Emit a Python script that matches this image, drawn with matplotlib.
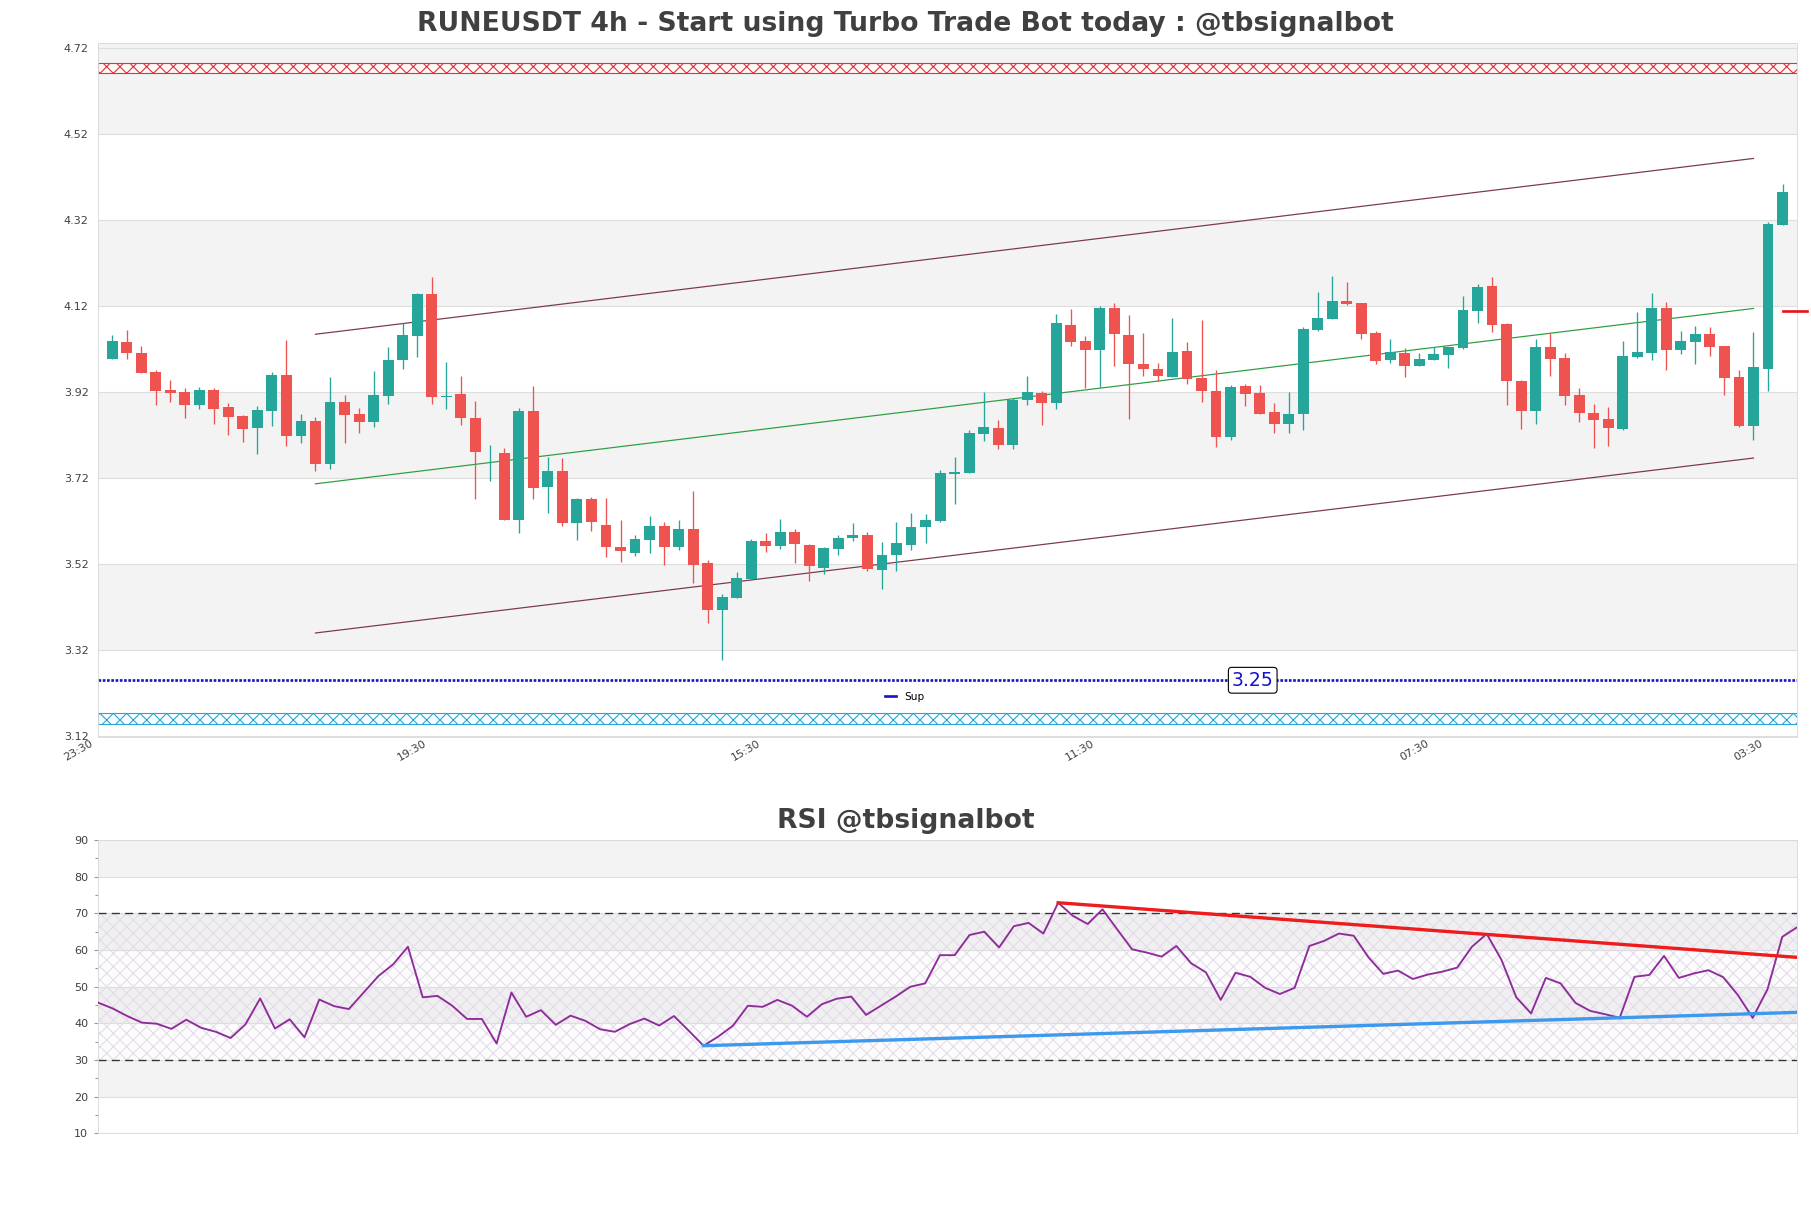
import numpy as np
import matplotlib
matplotlib.use("Agg")
import matplotlib.pyplot as plt
from matplotlib.lines import Line2D

plt.rcParams['font.family'] = ['DejaVu Sans']
plt.rcParams['hatch.linewidth'] = 1.0

# 4h candles
opens = [3.998, 4.037, 4.011, 3.968, 3.925, 3.920, 3.891, 3.925, 3.886, 3.865,
         3.838, 3.877, 3.960, 3.819, 3.853, 3.753, 3.897, 3.869, 3.852, 3.912,
         3.994, 4.052, 4.148, 3.910, 3.916, 3.860, 3.780, 3.778, 3.623, 3.877,
         3.700, 3.737, 3.617, 3.672, 3.611, 3.560, 3.547, 3.576, 3.609, 3.561,
         3.602, 3.523, 3.414, 3.442, 3.486, 3.573, 3.563, 3.595, 3.565, 3.512,
         3.556, 3.580, 3.588, 3.507, 3.542, 3.565, 3.607, 3.621, 3.731, 3.733,
         3.824, 3.838, 3.798, 3.903, 3.919, 3.894, 4.077, 4.040, 4.018, 4.115,
         4.053, 3.986, 3.974, 3.956, 4.016, 3.954, 3.923, 3.817, 3.935, 3.918,
         3.874, 3.847, 3.870, 4.065, 4.090, 4.132, 4.127, 4.057, 3.996, 4.011,
         3.981, 3.995, 4.007, 4.024, 4.110, 4.167, 4.079, 3.947, 3.877, 4.025,
         4.000, 3.914, 3.871, 3.858, 3.835, 4.003, 4.012, 4.115, 4.018, 4.038,
         4.056, 4.028, 3.956, 3.842, 3.975, 4.309]
highs = [4.053, 4.065, 4.028, 3.972, 3.949, 3.929, 3.932, 3.929, 3.894, 3.867,
         3.887, 3.968, 4.042, 3.870, 3.863, 3.955, 3.914, 3.883, 3.970, 4.025,
         4.082, 4.152, 4.188, 3.991, 3.958, 3.900, 3.797, 3.790, 3.883, 3.935,
         3.770, 3.766, 3.673, 3.677, 3.673, 3.623, 3.588, 3.631, 3.618, 3.623,
         3.691, 3.530, 3.451, 3.501, 3.579, 3.592, 3.625, 3.602, 3.567, 3.561,
         3.588, 3.616, 3.596, 3.572, 3.618, 3.638, 3.637, 3.739, 3.769, 3.832,
         3.920, 3.856, 3.906, 3.957, 3.924, 4.102, 4.113, 4.050, 4.120, 4.127,
         4.100, 4.058, 3.987, 4.092, 4.036, 4.088, 3.972, 3.938, 3.939, 3.937,
         3.894, 3.921, 4.073, 4.153, 4.190, 4.176, 4.127, 4.063, 4.043, 4.022,
         4.011, 4.026, 4.026, 4.144, 4.172, 4.189, 4.080, 3.949, 4.043, 4.057,
         4.011, 3.929, 3.893, 3.885, 4.039, 4.106, 4.152, 4.131, 4.063, 4.074,
         4.073, 4.028, 3.972, 4.061, 4.317, 4.404]
lows = [3.998, 3.998, 3.964, 3.891, 3.898, 3.861, 3.882, 3.846, 3.821, 3.805,
        3.777, 3.842, 3.796, 3.803, 3.738, 3.742, 3.803, 3.826, 3.840, 3.892,
        3.975, 4.003, 3.893, 3.881, 3.844, 3.672, 3.714, 3.623, 3.592, 3.672,
        3.640, 3.609, 3.577, 3.597, 3.536, 3.524, 3.540, 3.547, 3.517, 3.552,
        3.476, 3.384, 3.296, 3.442, 3.484, 3.549, 3.556, 3.522, 3.482, 3.497,
        3.542, 3.573, 3.505, 3.462, 3.504, 3.553, 3.570, 3.619, 3.660, 3.733,
        3.807, 3.788, 3.788, 3.890, 3.844, 3.880, 4.028, 3.930, 3.933, 3.982,
        3.857, 3.958, 3.947, 3.956, 3.939, 3.897, 3.792, 3.808, 3.887, 3.870,
        3.826, 3.826, 3.832, 4.063, 4.090, 4.124, 4.045, 3.985, 3.987, 3.956,
        3.980, 3.995, 3.977, 4.021, 4.082, 4.061, 3.890, 3.834, 3.846, 3.959,
        3.890, 3.852, 3.790, 3.796, 3.832, 3.999, 3.995, 3.972, 4.009, 3.986,
        4.004, 3.914, 3.840, 3.809, 3.922, 4.309]
closes = [4.039, 4.012, 3.966, 3.924, 3.919, 3.891, 3.925, 3.882, 3.863, 3.835,
          3.879, 3.960, 3.819, 3.853, 3.753, 3.897, 3.868, 3.852, 3.914, 3.995,
          4.053, 4.148, 3.910, 3.912, 3.859, 3.780, 3.781, 3.623, 3.877, 3.698,
          3.737, 3.617, 3.672, 3.618, 3.559, 3.550, 3.579, 3.609, 3.561, 3.602,
          3.519, 3.414, 3.444, 3.487, 3.574, 3.563, 3.595, 3.566, 3.515, 3.558,
          3.581, 3.588, 3.509, 3.542, 3.569, 3.607, 3.623, 3.733, 3.735, 3.826,
          3.840, 3.798, 3.903, 3.920, 3.896, 4.080, 4.037, 4.019, 4.115, 4.055,
          3.985, 3.973, 3.959, 4.014, 3.952, 3.924, 3.817, 3.933, 3.917, 3.870,
          3.847, 3.870, 4.067, 4.093, 4.132, 4.126, 4.056, 3.993, 4.013, 3.980,
          3.997, 4.008, 4.025, 4.111, 4.166, 4.077, 3.947, 3.877, 4.025, 3.998,
          3.911, 3.871, 3.856, 3.838, 4.004, 4.013, 4.117, 4.018, 4.039, 4.056,
          4.026, 3.954, 3.842, 3.979, 4.311, 4.386]

rsi = [45.7, 44.1, 42.0, 40.2, 39.9, 38.5, 41.0, 38.8, 37.7, 36.0,
       39.7, 46.8, 38.6, 41.1, 36.2, 46.5, 44.7, 43.9, 48.4, 52.9,
       56.1, 60.9, 47.1, 47.5, 44.8, 41.2, 41.2, 34.5, 48.4, 41.8,
       43.6, 39.6, 42.1, 40.7, 38.4, 37.7, 39.8, 41.3, 39.4, 42.0,
       38.0, 33.9, 36.4, 39.4, 44.8, 44.5, 46.4, 44.8, 41.8, 45.2,
       46.7, 47.3, 42.3, 44.8, 47.3, 50.0, 50.9, 58.6, 58.6, 64.1,
       65.0, 60.7, 66.5, 67.4, 64.5, 72.9, 69.3, 67.1, 71.1, 65.6,
       60.2, 59.3, 58.2, 61.1, 56.4, 53.9, 46.4, 53.8, 52.7, 49.7,
       48.0, 49.7, 61.1, 62.5, 64.5, 63.9, 58.0, 53.5, 54.4, 52.1,
       53.3, 54.1, 55.2, 60.9, 64.4, 57.3, 47.1, 42.7, 52.4, 50.9,
       45.6, 43.4, 42.5, 41.5, 52.7, 53.2, 58.4, 52.4, 53.6, 54.5,
       52.6, 47.7, 41.5, 49.3, 63.6, 66.2]

time_labels = ['23:30', '19:30', '15:30', '11:30', '07:30', '03:30']
label_step = 23
price_ticks = [3.12, 3.32, 3.52, 3.72, 3.92, 4.12, 4.32, 4.52, 4.72]
rsi_ticks = [10, 20, 30, 40, 50, 60, 70, 80, 90]

# price channel
channel_x = [14, 113]
channel_upper = [4.055, 4.464]
channel_mid = [3.707, 4.115]
channel_lower = [3.360, 3.767]

resist_zone = [4.662, 4.687]
support_zone = [3.149, 3.175]
sup_level = 3.25
last_level = 4.11

# RSI trend lines
rsi_res_x = [65, 115]
rsi_res_y = [72.9, 58.0]
rsi_sup_x = [41, 115]
rsi_sup_y = [33.9, 43.0]

title = 'RUNEUSDT 4h - Start using Turbo Trade Bot today : @tbsignalbot'
text_col = '#404040'
band_col = '#f3f3f3'
grid_col = '#dedede'
sup_col = '#1414c8'

DPI = 80
fig = plt.figure(figsize=(1811 / DPI, 1208 / DPI), dpi=DPI)
ax = fig.add_axes([0.0539, 0.3899, 0.9384, 0.5743])
rax = fig.add_axes([0.0539, 0.0618, 0.9384, 0.2428])

# ---- price chart ----
o = np.array(opens)
h = np.array(highs)
l = np.array(lows)
c = np.array(closes)
x = np.arange(len(o))
ax.set_xlim(-1, len(o))
ax.set_ylim(3.118, 4.732)

ytop = ax.get_ylim()[1]
for k in range(len(price_ticks) - 1):
    if k % 2 == 1:
        hi = price_ticks[k + 1] if k < len(price_ticks) - 2 else ytop
        ax.axhspan(price_ticks[k], hi, color=band_col, lw=0, zorder=0)

ax.set_yticks(price_ticks)
ax.grid(axis='y', color=grid_col, lw=1)
ax.set_axisbelow(True)

cols = np.where(c >= o, '#26a69a', '#ef5350')
ax.vlines(x, l, h, colors=cols, lw=1.2, zorder=3)
body_h = np.maximum(np.abs(c - o), 0.002)
ax.bar(x, body_h, bottom=np.minimum(o, c), width=0.75, color=cols, lw=0, zorder=4)

ax.plot(channel_x, channel_upper, color='#7a3a4a', lw=1.1, zorder=2.5)
ax.plot(channel_x, channel_lower, color='#7a3a4a', lw=1.1, zorder=2.5)
ax.plot(channel_x, channel_mid, color='#2e9e44', lw=1.1, zorder=2.5)

ax.axhspan(*resist_zone, facecolor='#fff8f8', edgecolor='#e0323c', hatch='xx', lw=1, zorder=1)
ax.axhspan(*support_zone, facecolor='#f7fcff', edgecolor='#2aa6d6', hatch='xx', lw=1, zorder=1)

ax.axhline(sup_level, color=sup_col, ls=(0, (1, 0.6)), lw=2.4, zorder=2)
ax.text(0.6797, sup_level, f'{sup_level:.2f}', transform=ax.get_yaxis_transform(),
        ha='center', va='center', fontsize=17, color=sup_col, zorder=6,
        bbox=dict(boxstyle='round,pad=0.18', fc='white', ec='black', lw=1))

ax.plot([x[-1], x[-1] + 1.7], [last_level, last_level], color='#e8141c', lw=2.4,
        clip_on=False, zorder=5)

sup_handle = Line2D([], [], color=sup_col, lw=2.4)
ax.legend([sup_handle], ['Sup'], loc='center', bbox_to_anchor=(0.475, 0.058),
          frameon=False, fontsize=9.5, handlelength=1.0, handletextpad=0.8)

# time labels, rotated and sitting a little left of each tick
ax.set_xticks([])
for xi, lbl in zip(x[::label_step], time_labels):
    ax.annotate(lbl, xy=(xi, 0), xycoords=('data', 'axes fraction'),
                xytext=(-16, -1), textcoords='offset points', rotation=30,
                ha='right', va='top', fontsize=10, color=text_col)
ax.tick_params(axis='y', length=0, pad=8, labelsize=10, labelcolor=text_col)
for sp in ax.spines.values():
    sp.set_color('#d9d9d9')

fig.text(0.5, 1 - 24 / 1208, title, ha='center', va='center', fontsize=24,
         fontweight='bold', color=text_col)

# ---- RSI ----
xr = np.arange(len(rsi))
rax.set_xlim(0, len(rsi) - 1)
rax.set_ylim(10, 90)
for k in range(len(rsi_ticks) - 1):
    if k % 2 == 1:
        rax.axhspan(rsi_ticks[k], rsi_ticks[k + 1], color=band_col, lw=0, zorder=0)
rax.axhspan(30, 70, facecolor='none', edgecolor='#e6dfec', hatch='xx', lw=0, zorder=0.6)
rax.axhspan(30, 70, facecolor='#a080c0', alpha=0.025, lw=0, zorder=0.6)
rax.set_yticks(rsi_ticks)
rax.set_yticks([v + 5 for v in rsi_ticks[:-1]], minor=True)
rax.grid(axis='y', color=grid_col, lw=1)
rax.set_axisbelow(True)
rax.axhline(70, color='#333333', ls=(0, (6, 4)), lw=1.2, zorder=2)
rax.axhline(30, color='#333333', ls=(0, (6, 4)), lw=1.2, zorder=2)

rax.plot(xr, rsi, color='#8e2c9a', lw=1.7, zorder=3)
rax.plot(rsi_res_x, rsi_res_y, color='#ee1c1c', lw=3, zorder=4)
rax.plot(rsi_sup_x, rsi_sup_y, color='#3d99ee', lw=3, zorder=4)

rax.set_xticks([])
rax.tick_params(axis='y', which='major', length=4, width=1, color='#999999', pad=4.5,
                labelsize=10, labelcolor=text_col)
rax.tick_params(axis='y', which='minor', length=2.5, width=1, color='#999999')
for sp in rax.spines.values():
    sp.set_color('#d9d9d9')

fig.text(0.5, 1 - 821 / 1208, 'RSI @tbsignalbot', ha='center', va='center', fontsize=24,
         fontweight='bold', color=text_col)

fig.savefig('out.png', dpi=DPI)
